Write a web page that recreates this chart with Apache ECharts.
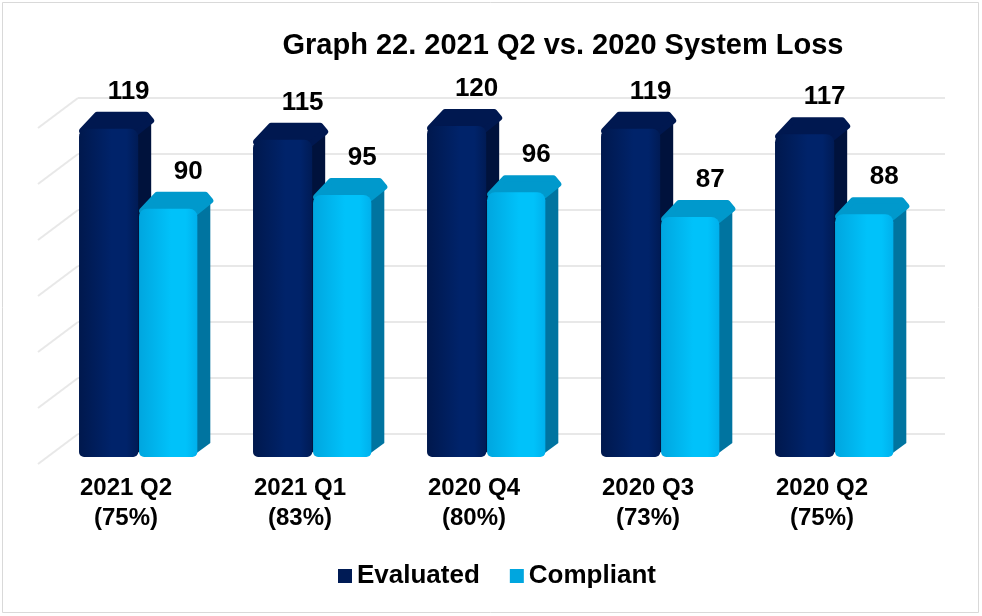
<!DOCTYPE html>
<html>
<head>
<meta charset="utf-8">
<script src="https://cdn.jsdelivr.net/npm/echarts@6/dist/echarts.min.js"></script>
<style>
    html, body { margin: 0; padding: 0; background: #fff; }
    #chart { width: 982px; height: 616px; }
</style>
</head>
<body>
<div id="chart"></div>
<script>
const categories = ['2021 Q2\n(75%)', '2021 Q1\n(83%)', '2020 Q4\n(80%)', '2020 Q3\n(73%)', '2020 Q2\n(75%)'];
const evaluated = [119, 115, 120, 119, 117];
const compliant = [90, 95, 96, 87, 88];
const wallTicks = [0, 20, 40, 60, 80, 100, 120];

const FONT = '"Liberation Sans", Arial, sans-serif';
const DEPTH_X = 13;
const DEPTH_Y = -14;

// colours per series: front (left, mid, right), top, side
const palette = {
    evaluated: { left: '#00184d', mid: '#00236a', right: '#001b55', top: '#001850', side: '#00123c' },
    compliant: { left: '#00a6df', mid: '#00c2fa', right: '#00b0ec', top: '#0099cc', side: '#0074a0' },
};

// offset / width of the bar front face inside the category band (fraction of band width)
function makeBar(colors, offset, width) {
    return function (params, api) {
        const idx = api.value(0);
        const val = api.value(1);
        const top = api.coord([idx, val]);
        const base = api.coord([idx, 0]);
        const band = api.size([1, 0])[0];
        const xl = top[0] + offset * band;
        const w = width * band;
        const xr = xl + w;
        const yt = top[1];
        const yb = base[1];
        const r = 8;
        return {
            type: 'group',
            children: [
                {
                    type: 'polygon',
                    shape: {
                        points: [[xr - 2, yt + 2], [xr + DEPTH_X, yt + DEPTH_Y + r], [xr + DEPTH_X, yb + DEPTH_Y], [xr - 6, yb]],
                    },
                    style: { fill: colors.side },
                },
                {
                    type: 'polygon',
                    shape: {
                        points: [[xl + 3, yt + 2], [xl + DEPTH_X + 5, yt + DEPTH_Y], [xr + DEPTH_X - 5, yt + DEPTH_Y], [xr + DEPTH_X, yt + DEPTH_Y + 6], [xr - 2, yt + 4]],
                    },
                    style: { fill: colors.top, stroke: colors.top, lineWidth: 6, lineJoin: 'round' },
                },
                {
                    type: 'rect',
                    shape: { x: xl, y: yt, width: w, height: yb - yt, r: [r, r, 5, 5] },
                    style: {
                        fill: {
                            type: 'linear', x: 0, y: 0, x2: 1, y2: 0,
                            colorStops: [
                                { offset: 0, color: colors.left },
                                { offset: 0.55, color: colors.mid },
                                { offset: 0.8, color: colors.mid },
                                { offset: 1, color: colors.right },
                            ],
                        },
                    },
                },
                {
                    type: 'text',
                    style: {
                        text: String(val),
                        x: xl + w / 2 + 20,
                        y: yt - 37,
                        align: 'center',
                        verticalAlign: 'middle',
                        font: 'bold 26px ' + FONT,
                        fill: '#000',
                    },
                },
            ],
        };
    };
}

const chart = echarts.init(document.getElementById('chart'));

const option = {
    backgroundColor: '#fff',
    animation: false,
    title: {
        text: 'Graph 22. 2021 Q2 vs. 2020 System Loss',
        left: 558,
        textAlign: 'center',
        top: 26,
        textStyle: { fontFamily: FONT, fontWeight: 'bold', fontSize: 29, color: '#000' },
    },
    graphic: [
        {
            type: 'rect',
            shape: { x: 2.5, y: 2.5, width: 976, height: 610 },
            style: { fill: 'none', stroke: '#d9d9d9', lineWidth: 1 },
            silent: true,
        },
    ],
    legend: {
        bottom: 22,
        left: 333,
        itemWidth: 14,
        itemHeight: 14,
        itemGap: 30,
        icon: 'rect',
        textStyle: { fontFamily: FONT, fontWeight: 'bold', fontSize: 26, color: '#000' },
        data: [
            { name: 'Evaluated', itemStyle: { color: '#001b55' } },
            { name: 'Compliant', itemStyle: { color: '#00a6df' } },
        ],
    },
    grid: [
        // front plane (bars, category labels)
        { left: 39, right: 73, top: 126, bottom: 159 },
        // back wall (gridlines)
        { left: 78, right: 37, top: 98, bottom: 182 },
    ],
    xAxis: [
        {
            type: 'category',
            gridIndex: 0,
            data: categories,
            axisLine: { show: false },
            axisTick: { show: false },
            axisLabel: {
                margin: 16,
                fontFamily: FONT,
                fontWeight: 'bold',
                fontSize: 24,
                lineHeight: 30,
                color: '#000',
            },
        },
        {
            type: 'value',
            gridIndex: 1,
            min: 0,
            max: 1,
            show: false,
        },
    ],
    yAxis: [
        {
            type: 'value',
            gridIndex: 0,
            min: 0,
            max: 120,
            show: false,
        },
        {
            type: 'value',
            gridIndex: 1,
            min: 0,
            max: 120,
            interval: 20,
            axisLine: { show: false },
            axisTick: { show: false },
            axisLabel: { show: false },
            splitLine: { lineStyle: { color: '#e8e8e8', width: 2 } },
        },
    ],
    series: [
        {
            name: 'wall',
            type: 'custom',
            xAxisIndex: 1,
            yAxisIndex: 1,
            silent: true,
            data: wallTicks.map(v => [0, v]),
            renderItem: (params, api) => {
                const p = api.coord([0, api.value(1)]);
                return {
                    type: 'line',
                    shape: { x1: p[0], y1: p[1], x2: p[0] - 40, y2: p[1] + 30 },
                    style: { stroke: '#e8e8e8', lineWidth: 2 },
                };
            },
        },
        {
            name: 'Evaluated',
            type: 'custom',
            xAxisIndex: 0,
            yAxisIndex: 0,
            itemStyle: { color: '#001b55' },
            data: evaluated.map((v, i) => [i, v]),
            renderItem: makeBar(palette.evaluated, -0.27, 0.34),
        },
        {
            name: 'Compliant',
            type: 'custom',
            xAxisIndex: 0,
            yAxisIndex: 0,
            itemStyle: { color: '#00a6df' },
            data: compliant.map((v, i) => [i, v]),
            renderItem: makeBar(palette.compliant, 0.075, 0.335),
        },
    ],
};

chart.setOption(option);
window.addEventListener('resize', () => {
    chart.resize();
});
</script>
</body>
</html>
